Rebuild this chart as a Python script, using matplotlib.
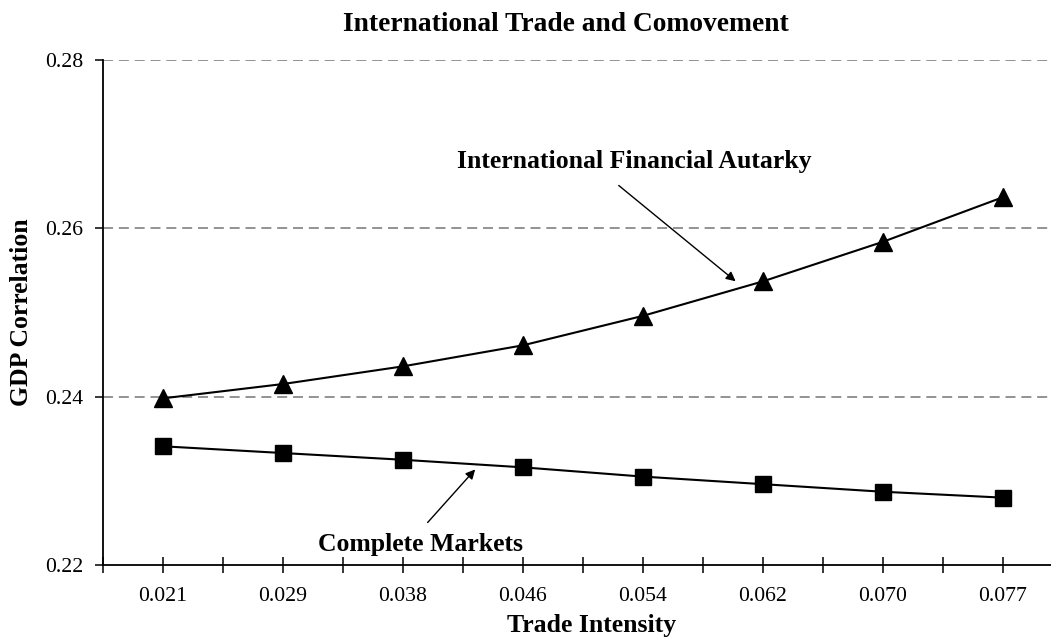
import matplotlib
matplotlib.use("Agg")
import matplotlib.pyplot as plt
import numpy as np

plt.rcParams['font.family'] = ['Liberation Serif', 'DejaVu Serif']

trade_intensity = ["0.021", "0.029", "0.038", "0.046", "0.054", "0.062", "0.070", "0.077"]
autarky = [0.2398, 0.2415, 0.2436, 0.2461, 0.2496, 0.2537, 0.2584, 0.2637]
complete = [0.2341, 0.2333, 0.2325, 0.2316, 0.2305, 0.2296, 0.2287, 0.2280]

fig = plt.figure(figsize=(10.51, 6.41), dpi=100)
ax = fig.add_axes([0.098, 0.1186, 0.9134, 0.7878])

x = np.arange(len(trade_intensity))

ax.plot(x, autarky, color='black', lw=1.5, marker='^', markersize=12.5, zorder=3)
ax.plot(x, complete, color='black', lw=1.5, marker='s', markersize=12, zorder=3)

ax.set_xlim(-0.5, len(trade_intensity) - 0.5)
ax.set_ylim(0.22, 0.28)
ax.set_yticks([0.22, 0.24, 0.26, 0.28])
ax.set_yticklabels(["0.22", "0.24", "0.26", "0.28"])
ax.set_xticks(x)
ax.set_xticklabels(trade_intensity)
ax.set_xticks(np.arange(-0.5, len(trade_intensity), 1.0), minor=True)

for y in [0.24, 0.26, 0.28]:
    ax.axhline(y, color='#808080', lw=1.2, ls=(0, (6, 3.5)), zorder=1)

ax.spines['top'].set_visible(False)
ax.spines['right'].set_visible(False)
ax.spines['left'].set_linewidth(1.3)
ax.spines['bottom'].set_linewidth(1.3)

ax.tick_params(axis='x', which='both', direction='inout', length=11, width=1.1, labelsize=15.7, pad=10)
ax.tick_params(axis='y', direction='out', length=6, width=1.1, labelsize=15.7, pad=8)

# the axes runs past the right edge, so centre the texts by hand
ax.set_title("International Trade and Comovement", fontsize=19.8, fontweight='bold', pad=21, x=0.482)
ax.set_xlabel("Trade Intensity", fontsize=18.5, fontweight='bold', labelpad=6, x=0.509)
ax.set_ylabel("GDP Correlation", fontsize=18.5, fontweight='bold', labelpad=9)

# annotation arrows and labels
ax.annotate("", xy=(4.79, 0.2535), xytext=(3.78, 0.2653),
            arrowprops=dict(arrowstyle='-|>', color='black', lw=1.0, mutation_scale=14))
ax.text(3.93, 0.2672, "International Financial Autarky", fontsize=18.5, fontweight='bold',
        ha='center', va='baseline')

ax.annotate("", xy=(2.617, 0.2316), xytext=(2.19, 0.2248),
            arrowprops=dict(arrowstyle='-|>', color='black', lw=1.0, mutation_scale=14))
ax.text(2.15, 0.2217, "Complete Markets", fontsize=18.5, fontweight='bold',
        ha='center', va='baseline')

fig.savefig("out.png", dpi=100)
